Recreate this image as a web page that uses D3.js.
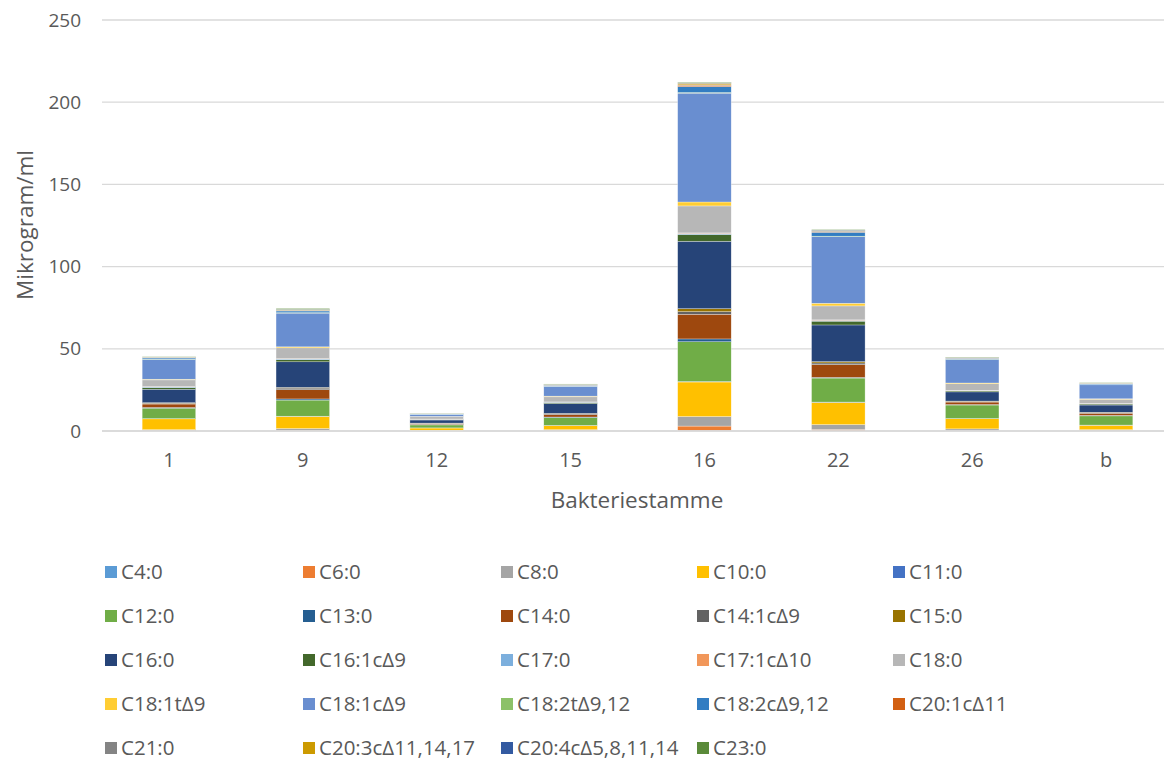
<!DOCTYPE html>
<html>
<head>
<meta charset="utf-8">
<script src="https://cdn.jsdelivr.net/npm/d3@7"></script>
<style>
  body { margin: 0; background: #fff; }
  text { font-family: "Open Sans", "Noto Sans", sans-serif; fill: #595959; }
</style>
</head>
<body>
<svg id="chart" width="1164" height="762"></svg>
<script>
// Bacterial strains on the x axis
const categories = ["1", "9", "12", "15", "16", "22", "26", "b"];

// Fatty acid series (µg/ml per strain, same order as categories)
const seriesNames = [
  "C4:0", "C6:0", "C8:0", "C10:0", "C11:0",
  "C12:0", "C13:0", "C14:0", "C14:1cΔ9", "C15:0",
  "C16:0", "C16:1cΔ9", "C17:0", "C17:1cΔ10", "C18:0",
  "C18:1tΔ9", "C18:1cΔ9", "C18:2tΔ9,12", "C18:2cΔ9,12", "C20:1cΔ11",
  "C21:0", "C20:3cΔ11,14,17", "C20:4cΔ5,8,11,14", "C23:0"
];
const C4_0      = [0.2, 0.3, 0.1, 0.2, 0.4, 0.3, 0.2, 0.2];
const C6_0      = [0.1, 0.2, 0.05, 0.1, 2.6, 0.6, 0.1, 0.1];
const C8_0      = [0.5, 1.0, 0.3, 0.5, 5.8, 3.0, 1.0, 0.5];
const C10_0     = [6.6, 7.4, 1.4, 2.5, 21.0, 13.5, 6.2, 2.7];
const C11_0     = [0.1, 0.1, 0.05, 0.1, 0.3, 0.2, 0.1, 0.1];
const C12_0     = [6.4, 9.8, 1.8, 4.8, 24.2, 14.6, 8.2, 5.6];
const C13_0     = [0.4, 0.7, 0.3, 0.3, 1.7, 0.4, 0.3, 0.3];
const C14_0     = [2.1, 5.6, 0.5, 1.5, 15.0, 7.8, 1.5, 1.3];
const C14_1c9   = [0.5, 1.0, 0.2, 0.5, 1.6, 1.0, 0.4, 0.4];
const C15_0     = [0.3, 0.4, 0.1, 0.2, 1.8, 0.8, 0.2, 0.2];
const C16_0     = [8.2, 15.6, 1.9, 6.0, 41.0, 22.3, 5.6, 4.4];
const C16_1c9   = [1.0, 1.3, 0.3, 0.6, 4.1, 2.3, 0.6, 0.6];
const C17_0     = [0.4, 0.4, 0.2, 0.3, 0.7, 0.5, 0.3, 0.3];
const C17_1c10  = [0.2, 0.2, 0.1, 0.1, 0.3, 0.3, 0.1, 0.1];
const C18_0     = [4.1, 6.6, 1.5, 3.1, 16.4, 8.5, 4.0, 2.5];
const C18_1t9   = [0.4, 0.6, 0.1, 0.4, 2.4, 1.6, 0.4, 0.3];
const C18_1c9   = [12.0, 20.5, 1.2, 6.0, 66.2, 40.5, 14.2, 8.5];
const C18_2t912 = [0.2, 0.3, 0.1, 0.1, 0.4, 0.3, 0.2, 0.1];
const C18_2c912 = [0.7, 1.0, 0.2, 0.5, 3.6, 2.4, 0.6, 0.4];
const C20_1c11  = [0.1, 0.2, 0.05, 0.1, 0.8, 0.3, 0.1, 0.1];
const C21_0     = [0.2, 0.3, 0.1, 0.2, 0.3, 0.4, 0.2, 0.2];
const C20_3c    = [0.2, 0.3, 0.1, 0.2, 0.9, 0.3, 0.2, 0.2];
const C20_4c    = [0.1, 0.2, 0.05, 0.1, 0.3, 0.3, 0.1, 0.1];
const C23_0     = [0.2, 0.5, 0.1, 0.2, 0.4, 0.3, 0.2, 0.2];

const seriesValues = [
  C4_0, C6_0, C8_0, C10_0, C11_0, C12_0, C13_0, C14_0, C14_1c9, C15_0,
  C16_0, C16_1c9, C17_0, C17_1c10, C18_0, C18_1t9, C18_1c9, C18_2t912,
  C18_2c912, C20_1c11, C21_0, C20_3c, C20_4c, C23_0
];

const seriesColors = [
  "#5B9BD5", "#ED7D31", "#A5A5A5", "#FFC000", "#4472C4",
  "#70AD47", "#255E91", "#9E480E", "#636363", "#997300",
  "#264478", "#43682B", "#7CAFDD", "#F1975A", "#B7B7B7",
  "#FFCD33", "#698ED0", "#8CC168", "#327DC2", "#D26012",
  "#848484", "#CC9A00", "#335AA1", "#5A8A39"
];

const yTicks = [0, 50, 100, 150, 200, 250];

// Build rows for d3.stack
const rows = categories.map((c, i) => {
  const r = { cat: c };
  seriesNames.forEach((s, j) => { r[s] = seriesValues[j][i]; });
  return r;
});
const stacked = d3.stack().keys(seriesNames)(rows);

const svg = d3.select("#chart");
const plot = { left: 102, right: 1173, top: 20, bottom: 431 };

const x = d3.scaleBand().domain(categories)
  .range([plot.left, plot.right]).paddingInner(0.6).paddingOuter(0.3);
const y = d3.scaleLinear().domain([0, 250]).range([plot.bottom, plot.top]);

// Horizontal gridlines
svg.append("g").selectAll("line").data(yTicks).join("line")
  .attr("x1", plot.left).attr("x2", plot.right)
  .attr("y1", d => y(d)).attr("y2", d => y(d))
  .attr("stroke", "#d9d9d9").attr("stroke-width", 1.3);

// Y axis tick labels
const yAxis = svg.append("g").attr("transform", `translate(${plot.left - 21},0)`)
  .call(d3.axisLeft(y).tickValues(yTicks).tickSize(0).tickPadding(0));
yAxis.select(".domain").remove();
yAxis.selectAll("text").style("font-size", "19px").attr("fill", "#595959")
  .style("font-family", "'Open Sans', sans-serif");

// Stacked bars
svg.append("g").selectAll("g").data(stacked).join("g")
  .attr("fill", (d, i) => seriesColors[i])
  .selectAll("rect").data(d => d).join("rect")
  .attr("x", d => x(d.data.cat))
  .attr("width", x.bandwidth())
  .attr("y", d => y(d[1]))
  .attr("height", d => Math.max(0, y(d[0]) - y(d[1])))
  .attr("stroke", "#ffffff").attr("stroke-width", 0.5).attr("stroke-opacity", 0.6);

// X axis line and labels
svg.append("line").attr("x1", plot.left).attr("x2", plot.right)
  .attr("y1", plot.bottom).attr("y2", plot.bottom)
  .attr("stroke", "#d9d9d9").attr("stroke-width", 1.3);
const xAxis = svg.append("g").attr("transform", `translate(0,${plot.bottom})`)
  .call(d3.axisBottom(x).tickSize(0).tickPadding(22));
xAxis.select(".domain").remove();
xAxis.selectAll("text").style("font-size", "20px").attr("fill", "#595959")
  .style("font-family", "'Open Sans', sans-serif");

// Axis titles
svg.append("text").attr("x", 637).attr("y", 500).attr("dy", "0.35em").attr("text-anchor", "middle")
  .style("font-size", "22.5px").text("Bakteriestamme");
svg.append("text").attr("transform", "translate(25,225) rotate(-90)")
  .attr("dy", "0.35em").attr("text-anchor", "middle").style("font-size", "22.5px").text("Mikrogram/ml");

// Legend: 5 columns
const colX = [105, 303, 501, 697, 893];
const rowY = [572, 616, 660, 704, 748];
const legend = svg.append("g").selectAll("g").data(seriesNames).join("g")
  .attr("transform", (d, i) => `translate(${colX[i % 5]},${rowY[Math.floor(i / 5)]})`);
legend.append("rect").attr("x", 0).attr("y", -6).attr("width", 12).attr("height", 12)
  .attr("fill", (d, i) => seriesColors[i]);
legend.append("text").attr("x", 16).attr("y", 0).attr("dy", "0.35em")
  .style("font-size", "20.5px").text(d => d);
</script>
</body>
</html>
